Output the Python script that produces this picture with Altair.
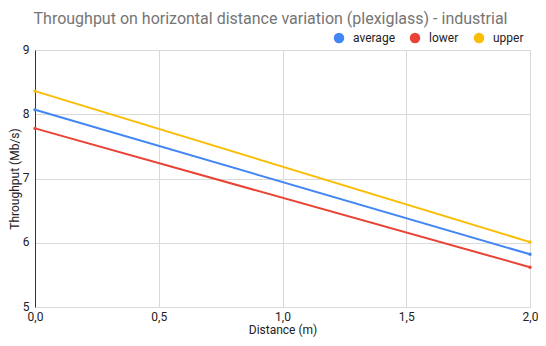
import altair as alt
import pandas as pd

distance = [0.0, 2.0]
average = [8.07, 5.82]
lower = [7.78, 5.62]
upper = [8.36, 6.01]

series_names = ["average", "lower", "upper"]
series_colors = ["#4285F4", "#EA4335", "#FBBC04"]

rows = []
for name, vals in zip(series_names, [average, lower, upper]):
    for d, v in zip(distance, vals):
        rows.append({"Distance": d, "Throughput": v, "series": name})
df = pd.DataFrame(rows)

FONT = "Roboto"

color = alt.Color(
    "series:N",
    scale=alt.Scale(domain=series_names, range=series_colors),
    legend=alt.Legend(
        title=None,
        orient="none",
        direction="horizontal",
        legendX=298,
        legendY=-18,
        symbolType="circle",
        symbolSize=110,
        symbolStrokeWidth=0,
        labelFontSize=12,
        labelColor="#222222",
        labelFont=FONT,
        columnPadding=14,
        labelOffset=8,
    ),
)

x = alt.X(
    "Distance:Q",
    scale=alt.Scale(domain=[0, 2], nice=False, zero=False),
    axis=alt.Axis(
        title="Distance (m)",
        values=[0, 0.5, 1.0, 1.5, 2.0],
        labelExpr="replace(format(datum.value, '.1f'), '.', ',')",
        labelFlush=False,
        domain=False,
        ticks=False,
        labelPadding=4,
        titlePadding=2,
        gridColor="#d9d9d9",
    ),
)
y = alt.Y(
    "Throughput:Q",
    scale=alt.Scale(domain=[5, 9], nice=False, zero=False),
    axis=alt.Axis(
        title="Throughput (Mb/s)",
        values=[5, 6, 7, 8, 9],
        format="d",
        domain=True,
        domainColor="#333333",
        ticks=False,
        labelPadding=6,
        labelOffset=-1,
        titlePadding=1,
        gridColor="#d9d9d9",
    ),
)

base = alt.Chart(df)
lines = base.mark_line(strokeWidth=2).encode(x=x, y=y, color=color, detail="series:N")
pts = base.mark_point(filled=True, size=12, opacity=1, shape="circle").encode(
    x=x, y=y,
    color=alt.Color("series:N", scale=alt.Scale(domain=series_names, range=series_colors), legend=None),
)

chart = (
    alt.layer(lines, pts)
    .properties(
        width=495,
        height=257,
        autosize=alt.AutoSizeParams(type="none"),
        padding={"left": 27, "top": 42, "right": 8, "bottom": 31},
        title=alt.TitleParams(
            "Throughput on horizontal distance variation (plexiglass) - industrial",
            fontSize=16,
            font=FONT,
            fontWeight="normal",
            color="#757575",
            anchor="middle",
            offset=5,
            dx=-12,
        ),
    )
    .configure(background="white")
    .configure_view(stroke="#d9d9d9", strokeWidth=1)
    .configure_axis(
        labelFont=FONT,
        titleFont=FONT,
        labelFontSize=12,
        titleFontSize=12,
        labelColor="#222222",
        titleColor="#222222",
        titleFontWeight="normal",
    )
)

chart.save("out.html", embed_options={"renderer": "svg", "actions": False})
